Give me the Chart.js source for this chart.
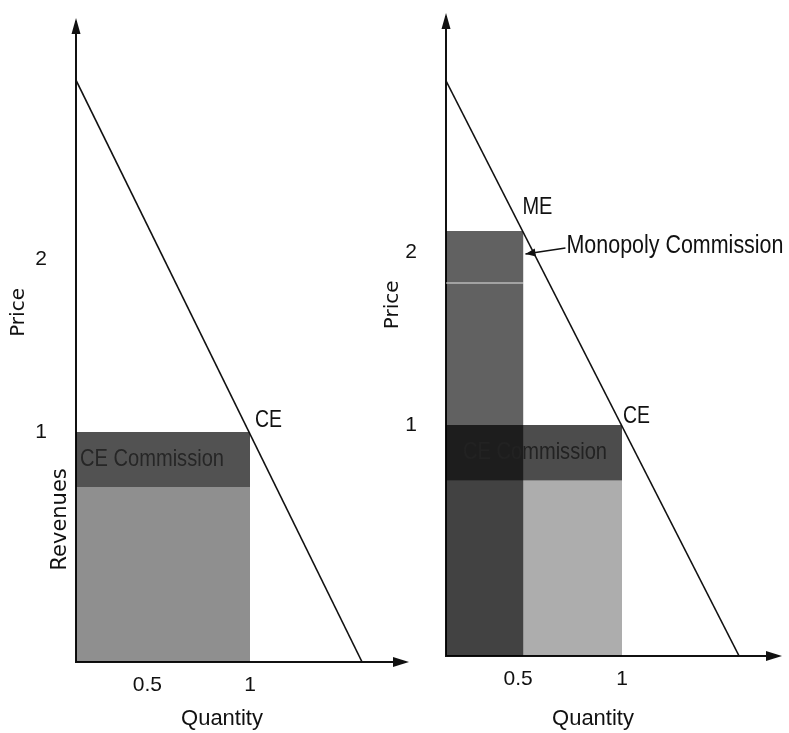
<!DOCTYPE html>
<html>
<head>
<meta charset="utf-8">
<title>CE vs Monopoly Commission</title>
<script src="https://cdn.jsdelivr.net/npm/chart.js@4.4.0/dist/chart.umd.min.js"></script>
<style>
  html, body { margin: 0; padding: 0; background: #fff; }
  #wrap { position: relative; width: 789px; height: 733px; overflow: hidden; }
  .panel { position: absolute; top: 0; height: 733px; }
  #leftPanel { left: 0; width: 420px; }
  #rightPanel { left: 370px; width: 419px; }
</style>
</head>
<body>
<div id="wrap">
  <div class="panel" id="leftPanel"><canvas id="leftChart"></canvas></div>
  <div class="panel" id="rightPanel"><canvas id="rightChart"></canvas></div>
</div>
<script>
// ===== DATA (price and quantity units) =====
const demandLeft = [{ x: 0, y: 2.53 }, { x: 1.644, y: 0 }];
const demandRight = [{ x: 0, y: 2.49 }, { x: 1.665, y: 0 }];

const ceQty = 1;
const cePrice = 1;
const ceCommissionFloor = 0.76;   // bottom of the CE commission band

const meQty = 0.44;
const mePrice = 1.84;
const meCommissionFloor = 1.615;  // thin light line inside the monopoly block

const xTickValues = [0.41, 1];
const xTickLabels = ["0.5", "1"];
const yTickValues = [1, 1.75];
const yTickLabels = ["1", "2"];

// ===== FONTS / COLOURS =====
const WIDE = '"DejaVu Sans", "Open Sans", sans-serif';
const PLAIN = '"Liberation Sans", Arial, sans-serif';
const INK = "#111";

function arrow(ctx, x0, y0, x1, y1, len, half) {
    const a = Math.atan2(y1 - y0, x1 - x0);
    const bx = x1 - len * Math.cos(a), by = y1 - len * Math.sin(a);
    const nx = -Math.sin(a) * half, ny = Math.cos(a) * half;
    ctx.beginPath();
    ctx.moveTo(x1, y1);
    ctx.lineTo(bx + nx, by + ny);
    ctx.lineTo(bx - nx, by - ny);
    ctx.closePath();
    ctx.fill();
}

// axis arrowheads + text annotations
const decorPlugin = {
    id: "decor",
    afterDraw(chart, args, opts) {
        const { ctx, chartArea: a, scales: { x, y } } = chart;
        ctx.save();
        ctx.fillStyle = INK;
        ctx.strokeStyle = INK;

        // y axis arrow
        arrow(ctx, a.left, a.top + 20, a.left, a.top - 4, 16, 4.5);

        // x axis runs on past the plot to its arrow
        ctx.lineWidth = 2;
        ctx.beginPath();
        ctx.moveTo(a.right, a.bottom);
        ctx.lineTo(opts.xTip - 8, a.bottom);
        ctx.stroke();
        arrow(ctx, opts.xTip - 20, a.bottom, opts.xTip, a.bottom, 16, 5);

        (opts.labels || []).forEach(l => {
            const px = x.getPixelForValue(l.at[0]) + (l.dx || 0);
            const py = y.getPixelForValue(l.at[1]) + (l.dy || 0);
            ctx.save();
            ctx.font = l.font;
            ctx.fillStyle = l.color || INK;
            ctx.textBaseline = "middle";
            ctx.textAlign = l.align || "left";
            ctx.translate(px, py);
            if (l.rotate) ctx.rotate(l.rotate);
            if (l.w) {
                // the original lettering is a condensed face
                const mw = ctx.measureText(l.text).width;
                ctx.scale(Math.min(1, l.w / mw), 1);
            }
            ctx.fillText(l.text, 0, 0);
            ctx.restore();
        });

        (opts.pointers || []).forEach(p => {
            const x0 = x.getPixelForValue(p.at[0]) + p.from[0];
            const y0 = y.getPixelForValue(p.at[1]) + p.from[1];
            const x1 = x.getPixelForValue(p.at[0]) + p.to[0];
            const y1 = y.getPixelForValue(p.at[1]) + p.to[1];
            ctx.lineWidth = 1.5;
            ctx.beginPath();
            ctx.moveTo(x0, y0);
            ctx.lineTo(x1, y1);
            ctx.stroke();
            arrow(ctx, x0, y0, x1, y1, 10, 4);
        });
        ctx.restore();
    }
};

function rect(data, fill, color) {
    return {
        data: data,
        fill: fill,
        backgroundColor: color,
        borderColor: "transparent",
        borderWidth: 0,
        pointRadius: 0
    };
}

function makePanel(canvasId, cfg) {
    return new Chart(document.getElementById(canvasId), {
        type: "line",
        data: { datasets: cfg.datasets },
        options: {
            responsive: true,
            maintainAspectRatio: false,
            animation: false,
            layout: { padding: { top: cfg.padTop, right: cfg.padRight, bottom: 0, left: 0 } },
            plugins: {
                legend: { display: false },
                tooltip: { enabled: false },
                decor: cfg.decor
            },
            scales: {
                x: {
                    type: "linear",
                    min: 0,
                    max: cfg.xMax,
                    grid: { display: false },
                    border: { display: true, color: INK, width: 2 },
                    afterBuildTicks: s => { s.ticks = xTickValues.map(v => ({ value: v })); },
                    afterFit: s => {
                        s.height = cfg.xAxisHeight;
                        s.paddingLeft = 0;
                        s.paddingRight = 0;
                    },
                    ticks: {
                        autoSkip: false,
                        maxRotation: 0,
                        padding: 3,
                        color: INK,
                        font: { family: PLAIN, size: 21 },
                        callback: (v, i) => xTickLabels[i]
                    },
                    title: {
                        display: true,
                        text: "Quantity",
                        color: INK,
                        font: { family: PLAIN, size: 22, lineHeight: 1 },
                        padding: { top: 0, bottom: 3 }
                    }
                },
                y: {
                    min: 0,
                    max: cfg.yMax,
                    grid: { display: false },
                    border: { display: true, color: INK, width: 2 },
                    afterBuildTicks: s => { s.ticks = yTickValues.map(v => ({ value: v })); },
                    afterFit: s => {
                        s.width = 76;
                        s.paddingTop = 0;
                        s.paddingBottom = 0;
                    },
                    ticks: {
                        padding: 21,
                        color: INK,
                        font: { family: PLAIN, size: 21 },
                        callback: (v, i) => yTickLabels[i]
                    },
                    title: { display: false }
                }
            }
        },
        plugins: [decorPlugin]
    });
}

document.addEventListener("DOMContentLoaded", function () {

    // ===== LEFT: competitive equilibrium =====
    makePanel("leftChart", {
        padTop: 22, padRight: 52, xAxisHeight: 71,
        xMax: 1.678, yMax: 2.783,
        datasets: [
            { data: demandLeft, borderColor: INK, borderWidth: 1.6, pointRadius: 0, fill: false },
            rect([{ x: 0, y: cePrice }, { x: ceQty, y: cePrice }], { value: ceCommissionFloor }, "rgba(0,0,0,0.68)"),
            rect([{ x: 0, y: ceCommissionFloor }, { x: ceQty, y: ceCommissionFloor }], "origin", "rgba(0,0,0,0.44)")
        ],
        decor: {
            xTip: 409,
            labels: [
                { text: "Price", at: [0, 1.52], dx: -57, font: "20px " + WIDE, align: "center", rotate: -Math.PI / 2 },
                { text: "Revenues", at: [0, 0.62], dx: -15, font: "21px " + WIDE, align: "center", rotate: -Math.PI / 2 },
                { text: "CE", at: [ceQty, cePrice], dx: 5, dy: -12, font: "24px " + PLAIN, w: 27 },
                { text: "CE Commission", at: [0, (cePrice + ceCommissionFloor) / 2], dx: 4,
                  font: "24px " + PLAIN, w: 144, color: "#262626" }
            ]
        }
    });

    // ===== RIGHT: monopoly vs competitive equilibrium =====
    makePanel("rightChart", {
        padTop: 17, padRight: 49, xAxisHeight: 77,
        xMax: 1.670, yMax: 2.766,
        datasets: [
            { data: demandRight, borderColor: INK, borderWidth: 1.6, pointRadius: 0, fill: false },
            { data: [{ x: 0, y: meCommissionFloor }, { x: meQty, y: meCommissionFloor }],
              borderColor: "rgba(255,255,255,0.55)", borderWidth: 1.5, pointRadius: 0, fill: false },
            rect([{ x: 0, y: mePrice }, { x: meQty, y: mePrice }], "origin", "rgba(0,0,0,0.62)"),
            rect([{ x: 0, y: cePrice }, { x: ceQty, y: cePrice }], { value: ceCommissionFloor }, "rgba(0,0,0,0.70)"),
            rect([{ x: 0, y: ceCommissionFloor }, { x: ceQty, y: ceCommissionFloor }], "origin", "rgba(0,0,0,0.32)")
        ],
        decor: {
            xTip: 412,
            labels: [
                { text: "Price", at: [0, 1.52], dx: -53, font: "20px " + WIDE, align: "center", rotate: -Math.PI / 2 },
                { text: "CE", at: [ceQty, cePrice], dx: 1, dy: -9, font: "24px " + PLAIN, w: 27 },
                { text: "ME", at: [meQty, mePrice], dx: -1, dy: -24, font: "24px " + PLAIN, w: 30 },
                { text: "Monopoly Commission", at: [meQty, mePrice], dx: 43, dy: 15, font: "25px " + PLAIN, w: 217 },
                { text: "CE Commission", at: [0, (cePrice + ceCommissionFloor) / 2], dx: 17,
                  font: "24px " + PLAIN, w: 144, color: "#222" }
            ],
            pointers: [
                { at: [meQty, mePrice], from: [42, 17], to: [2, 23] }
            ]
        }
    });
});
</script>
</body>
</html>
